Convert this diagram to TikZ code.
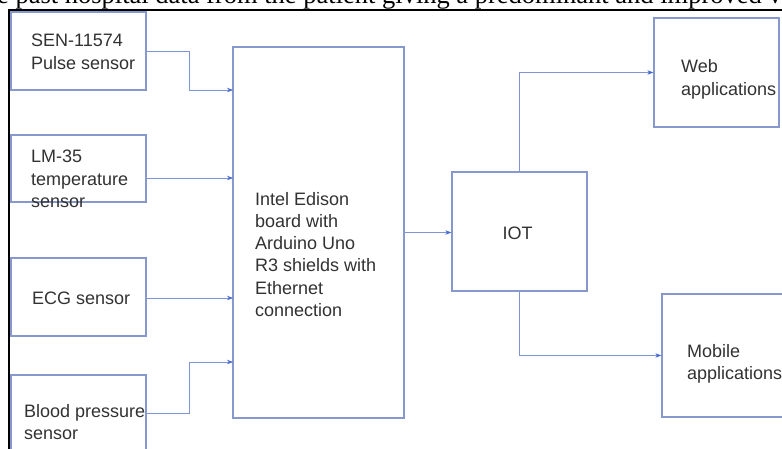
\documentclass[tikz,border=0pt]{standalone}
\usepackage{fontspec}
\setmainfont{Liberation Sans}
\newfontfamily\serifx{Liberation Serif}
\usetikzlibrary{arrows.meta}
\definecolor{boxc}{RGB}{135,152,205}
\definecolor{linec}{RGB}{125,148,215}
\definecolor{tipc}{RGB}{70,105,210}
\definecolor{txt}{RGB}{50,50,50}
\begin{document}
\begin{tikzpicture}[x=1pt,y=-1pt,
 box/.style={draw=boxc, line width=1.3pt, inner sep=0pt, rectangle, fill=white},
 lbl/.style={text=txt, font=\fontsize{18}{22.3}\selectfont, align=left, inner sep=0pt, anchor=base west},
 conn/.style={draw=linec, line width=0.8pt, -{Stealth[length=6pt,width=4.5pt,color=tipc]}},
 frame/.style={draw=black, line width=2pt}]
\useasboundingbox (0,0) rectangle (782,449);
\clip (0,0) rectangle (782,449);
\fill[white] (0,0) rectangle (782,449);

% cut-off text line at top
\node[anchor=base west, inner sep=0pt, font=\serifx\fontsize{26.5}{30}\selectfont] (toptext) at (-3,3.5)
  {e past hospital data from the patient giving a predominant and improved v};

% page frame
\draw[frame] (8.5,449) -- (8.5,10) -- (782,10);

% boxes
\node[box, minimum width=135pt, minimum height=78pt]  (sen) at (78.5,51) {};
\node[box, minimum width=135pt, minimum height=67pt]  (lm)  at (78.5,168.5) {};
\node[box, minimum width=135pt, minimum height=78pt]  (ecg) at (78.5,297) {};
\node[box, minimum width=135pt, minimum height=76pt]  (bp)  at (78.5,413) {};
\node[box, minimum width=171pt, minimum height=371pt] (cen) at (318.5,232.5) {};
\node[box, minimum width=135pt, minimum height=119pt] (iot) at (519.5,231.5) {};
\node[box, minimum width=125pt, minimum height=109pt] (web) at (716.5,72.5) {};
\node[box, minimum width=128pt, minimum height=123pt] (mob) at (726,355.5) {};

% texts (base anchor = baseline of the last line)
\node[lbl] (sen-t) at (31,69.3) {SEN-11574\\Pulse sensor};
\node[lbl] (lm-t)  at (31,207.6) {LM-35\\temperature\\sensor};
\node[lbl] (ecg-t) at (32,304) {ECG sensor};
\node[lbl] (bp-t)  at (24,439.3) {Blood pressure\\sensor};
\node[lbl] (cen-t) at (255,316.5) {Intel Edison\\board with\\Arduino Uno\\R3 shields with\\Ethernet\\connection};
\node[lbl, anchor=base] (iot-t) at (517.5,240) {IOT};
\node[lbl] (web-t) at (681,95.3) {Web\\applications};
\node[lbl] (mob-t) at (687,379.3) {Mobile\\applications};

% connector end points on the central box
\coordinate (i1) at (233,90);
\coordinate (i2) at (233,178);
\coordinate (i3) at (233,298);
\coordinate (i4) at (233,362);

\draw[conn] (sen.east) -- ++(43,0) |- (i1);
\draw[conn] (lm.east |- i2) -- (i2);
\draw[conn] (ecg.east |- i3) -- (i3);
\draw[conn] (bp.east) -- ++(43,0) |- (i4);
\draw[conn] (cen.east) -- (cen.east -| iot.west);
\draw[conn] (iot.north) |- (web.west);
\draw[conn] (iot.south) |- (mob.west);
\end{tikzpicture}
\end{document}
